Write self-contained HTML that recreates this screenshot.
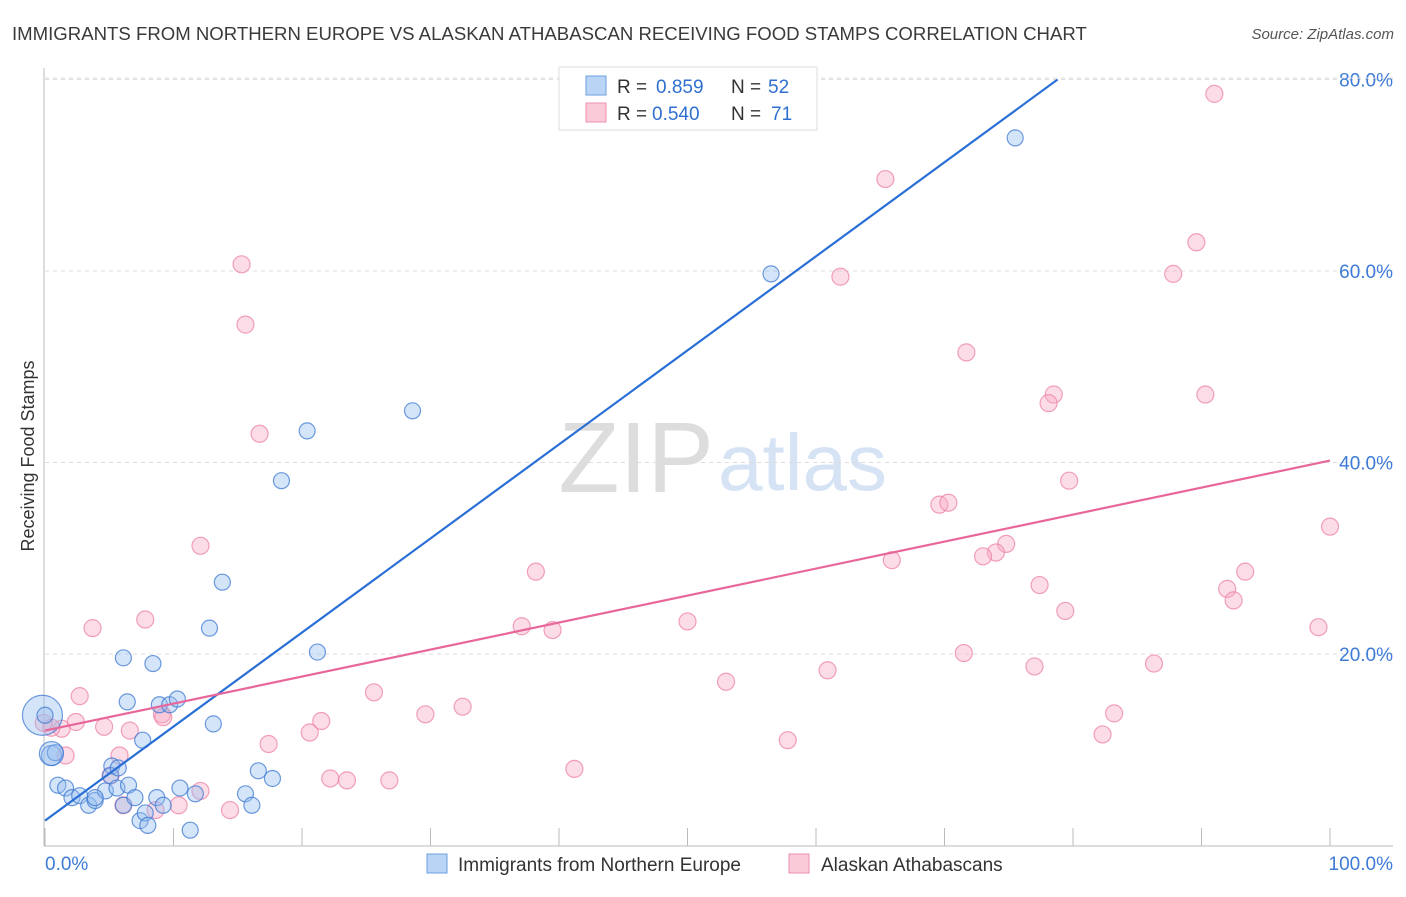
<!DOCTYPE html>
<html><head><meta charset="utf-8"><style>
body{margin:0;background:#fff;font-family:"Liberation Sans",sans-serif;}
svg text{font-family:"Liberation Sans",sans-serif;}
</style></head><body>
<svg id="chart" width="1406" height="892" xmlns="http://www.w3.org/2000/svg">
<text x="12" y="40" font-size="18.6" fill="#3a3a3a">IMMIGRANTS FROM NORTHERN EUROPE VS ALASKAN ATHABASCAN RECEIVING FOOD STAMPS CORRELATION CHART</text>
<text x="1394" y="39" font-size="15" fill="#555" text-anchor="end" font-style="italic">Source: ZipAtlas.com</text>
<text x="714" y="492" font-size="100" text-anchor="end" fill="#ddd" font-family="Liberation Serif">ZIP</text>
<text x="718" y="490" font-size="80" fill="#d5e3f5">atlas</text>
<g id="grid"></g>
<g id="axes"></g>
<g id="pink"></g>
<g id="blue"></g>
<g id="lines"></g>
<text transform="translate(34,456) rotate(-90)" font-size="18" fill="#333" text-anchor="middle">Receiving Food Stamps</text>
<g>
<rect x="559" y="67" width="258" height="63" fill="#fff" stroke="#ddd"/>
<rect x="586" y="76" width="20" height="19" fill="#bad4f5" stroke="#6a9fe0"/>
<rect x="586" y="103" width="20" height="19" fill="#fbcad8" stroke="#ee8fad"/>
<text x="617" y="93" font-size="19" fill="#333">R =</text>
<text x="656" y="93" font-size="19" fill="#2f6fd0">0.859</text>
<text x="731" y="93" font-size="19" fill="#333">N =</text>
<text x="768" y="93" font-size="19" fill="#2f6fd0">52</text>
<text x="617" y="120" font-size="19" fill="#333">R =</text>
<text x="652" y="120" font-size="19" fill="#2f6fd0">0.540</text>
<text x="731" y="120" font-size="19" fill="#333">N =</text>
<text x="771" y="120" font-size="19" fill="#2f6fd0">71</text>
</g>
<g>
<rect x="427" y="854" width="20" height="19" fill="#bad4f5" stroke="#6a9fe0"/>
<text x="458" y="871" font-size="19" fill="#333">Immigrants from Northern Europe</text>
<rect x="789" y="854" width="20" height="19" fill="#fbcad8" stroke="#ee8fad"/>
<text x="821" y="871" font-size="19" fill="#333">Alaskan Athabascans</text>
</g>
</svg>
<script>
const blueX=[0.5,-0.2,1,1.6,2.1,2.7,3.4,3.9,4.7,5.2,5.1,5.6,6.1,6.5,7,7.4,7.8,8,8.7,9.2,10.5,11.3,11.7,15.6,16.1,16.6,17.7,7.6,13.1,6.4,8.9,9.7,10.3,6.1,8.4,12.8,13.8,21.2,18.4,20.4,28.6,56.5,75.5,0.8,5.7,3.9,0.5,0];
const blueY=[9.4,13.6,6.3,6,5,5.2,4.2,4.7,5.7,8.3,7.3,6,4.2,6.3,5,2.6,3.4,2.1,5,4.2,6,1.6,5.4,5.4,4.2,7.8,7,11,12.7,15,14.7,14.7,15.3,19.6,19,22.7,27.5,20.2,38.1,43.3,45.4,59.7,73.9,9.7,8.1,5,9.6,13.6];
const blueR=[10,20,8,8,8,8,8,8,8,8,8,8,8,8,8,8,8,8,8,8,8,8,8,8,8,8,8,8,8,8,8,8,8,8,8,8,8,8,8,8,8,8,8,8,8,8,12,8];
const pinkX=[91,65.4,15.3,89.6,87.8,61.9,15.6,71.7,78.5,78.1,90.3,16.7,79.7,69.6,70.3,12.1,38.2,65.9,74.8,74,73,93.4,77.4,92,92.5,79.4,100,99.1,3.7,7.8,37.1,39.5,50,71.5,77,86.3,60.9,53,2.7,25.6,2.4,1.3,0.5,4.6,6.6,9.1,9.2,21.5,20.6,29.6,32.5,17.4,5.8,1.6,5.1,22.2,23.5,26.8,41.2,57.8,83.2,82.3,12.1,6.1,10.4,8.6,14.4,-0.1];
const pinkY=[78.5,69.6,60.7,63,59.7,59.4,54.4,51.5,47.1,46.2,47.1,43,38.1,35.6,35.8,31.3,28.6,29.8,31.5,30.6,30.2,28.6,27.2,26.8,25.6,24.5,33.3,22.8,22.7,23.6,22.9,22.5,23.4,20.1,18.7,19,18.3,17.1,15.6,16,12.9,12.2,12.3,12.4,12,13.7,13.4,13,11.8,13.7,14.5,10.6,9.4,9.4,7.3,7,6.8,6.8,8,11,13.8,11.6,5.7,4.2,4.2,3.7,3.7,12.8];
const blueLine=[2.6,80.0], blueLineX=[0,78.8];
const pinkLine=[12.0,40.2], pinkLineX=[0,100];
const yTicks=[20,40,60,80], yTickLabels=["20.0%","40.0%","60.0%","80.0%"];
const xTicks=[0,10,20,30,40,50,60,70,80,90,100];
const sx=v=>45+v*12.85, sy=v=>845.5-v*9.575;
const NS="http://www.w3.org/2000/svg";
function mk(p,t,a){const e=document.createElementNS(NS,t);for(const k in a)e.setAttribute(k,a[k]);document.getElementById(p).appendChild(e);return e;}
yTicks.forEach((t,i)=>{
 const l=mk('grid','line',{x1:45,x2:1393,y1:sy(t),y2:sy(t),stroke:'#ddd','stroke-dasharray':'4,4'});
 
 
 const tx=mk('grid','text',{x:1393,y:sy(t)+7,'font-size':19,fill:'#3d7bd6','text-anchor':'end'});
 tx.textContent=yTickLabels[i];
 
 
});
const topLine=mk('grid','line',{x1:45,x2:1393,y1:78,y2:78,stroke:'#ddd','stroke-dasharray':'4,4'});


mk('axes','line',{x1:44,x2:44,y1:68,y2:846,stroke:'#bbb'});
const xa=mk('axes','line',{x1:44,x2:1393,y1:846,y2:846,stroke:'#bbb'});


xTicks.forEach(t=>{const l=mk('axes','line',{x1:sx(t),x2:sx(t),y1:828,y2:846,stroke:'#bbb'});
 
 });
const x0=mk('axes','text',{x:45,y:870,'font-size':19,fill:'#3d7bd6'});x0.textContent='0.0%';


const x1=mk('axes','text',{x:1393,y:870,'font-size':19,fill:'#3d7bd6','text-anchor':'end'});x1.textContent='100.0%';


pinkX.forEach((v,i)=>{const c=mk('pink','circle',{cx:sx(v),cy:sy(pinkY[i]),r:8.5,fill:'rgba(247,170,195,0.4)',stroke:'rgba(236,130,165,0.75)','stroke-width':1.2});
 
 });
blueX.forEach((v,i)=>{const c=mk('blue','circle',{cx:sx(v),cy:sy(blueY[i]),r:blueR[i],fill:'rgba(150,190,240,0.4)',stroke:'rgba(60,120,210,0.75)','stroke-width':1.2});
 
 });
const bl=mk('lines','line',{x1:sx(blueLineX[0]),y1:sy(blueLine[0]),x2:sx(blueLineX[1]),y2:sy(blueLine[1]),stroke:'#2a6fd6','stroke-width':2.2});


const pl=mk('lines','line',{x1:sx(pinkLineX[0]),y1:sy(pinkLine[0]),x2:sx(pinkLineX[1]),y2:sy(pinkLine[1]),stroke:'#e8679a','stroke-width':2.2});


</script>
</body></html>
